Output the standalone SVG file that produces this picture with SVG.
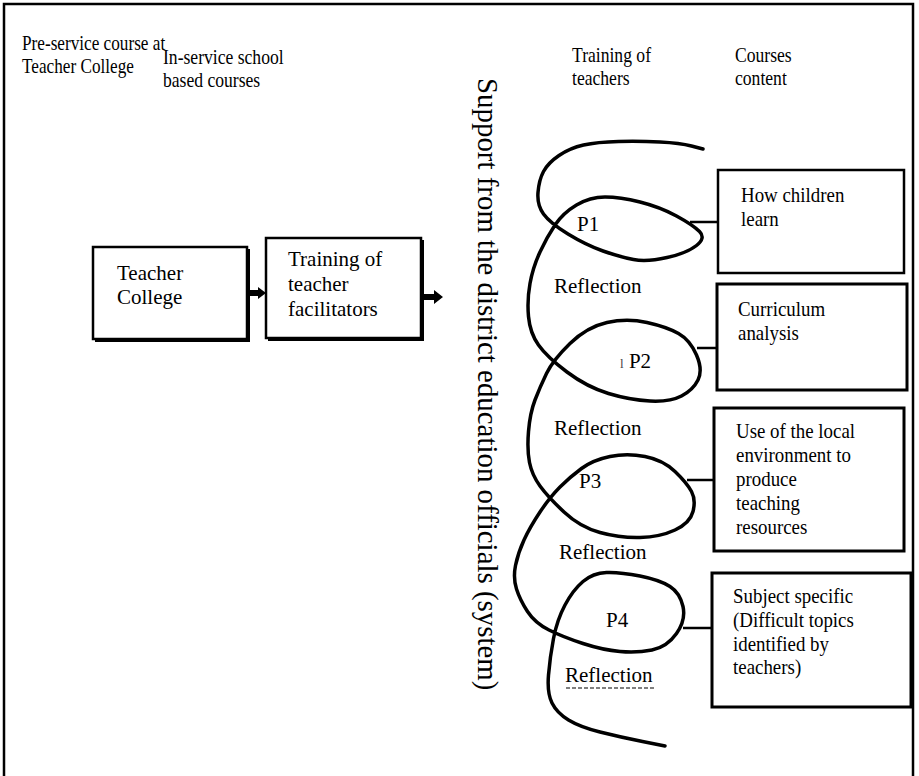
<svg xmlns="http://www.w3.org/2000/svg" width="919" height="776" viewBox="0 0 919 776">
<style>
text{font-family:"Liberation Serif","Times New Roman",serif;font-size:21px;fill:#000}
.hd{font-size:20px}
.box{fill:#fff;stroke:#000;stroke-width:2.5}
.shadow{fill:none;stroke:#000;stroke-width:2}
.conn{stroke:#000;stroke-width:2.5;fill:none}
.spiral{fill:none;stroke:#000;stroke-width:3.5;stroke-linecap:round;stroke-linejoin:round}
</style>
<rect x="4" y="4" width="909" height="800" fill="#fff" stroke="#000" stroke-width="2.5"/>
<g id="headers">
<text class="hd" transform="translate(22,50) scale(0.86,1)">Pre-service course at</text>
<text class="hd" transform="translate(22,73) scale(0.86,1)">Teacher College</text>
<text class="hd" transform="translate(163,64) scale(0.88,1)">In-service school</text>
<text class="hd" transform="translate(163,87) scale(0.88,1)">based courses</text>
<text class="hd" transform="translate(572,62) scale(0.88,1)">Training of</text>
<text class="hd" transform="translate(572,85) scale(0.88,1)">teachers</text>
<text class="hd" transform="translate(735,62) scale(0.88,1)">Courses</text>
<text class="hd" transform="translate(735,85) scale(0.88,1)">content</text>
</g>
<g id="support">
<text transform="translate(478,78) rotate(90)" style="font-size:28.9px">Support from the district education officials (system)</text>
</g>
<g id="teacher-college">
<rect class="box" x="93" y="247" width="154" height="92"/>
<polyline class="shadow" points="95,341 249,341 249,249"/>
<text x="117" y="280">Teacher</text>
<text x="117" y="304">College</text>
</g>
<g id="training-facilitators">
<rect class="box" x="266" y="238" width="155" height="100"/>
<polyline class="shadow" points="268,340 423,340 423,240"/>
<text x="288" y="266">Training of</text>
<text x="288" y="291">teacher</text>
<text x="288" y="316">facilitators</text>
</g>
<g id="box-children">
<rect class="box" x="718" y="170" width="186" height="103"/>
<text transform="translate(741,202) scale(0.9,1)">How children</text>
<text transform="translate(741,226) scale(0.9,1)">learn</text>
</g>
<g id="box-curriculum">
<rect class="box" x="717" y="284" width="190" height="106" style="stroke-width:3"/>
<text transform="translate(738,316) scale(0.9,1)">Curriculum</text>
<text transform="translate(738,340) scale(0.9,1)">analysis</text>
</g>
<g id="box-environment">
<rect class="box" x="714" y="408" width="190" height="143" style="stroke-width:3"/>
<text transform="translate(736,438) scale(0.9,1)">Use of the local</text>
<text transform="translate(736,462) scale(0.9,1)">environment to</text>
<text transform="translate(736,486) scale(0.9,1)">produce</text>
<text transform="translate(736,510) scale(0.9,1)">teaching</text>
<text transform="translate(736,534) scale(0.9,1)">resources</text>
</g>
<g id="box-subject">
<rect class="box" x="712" y="573" width="199" height="134" style="stroke-width:3"/>
<text transform="translate(733,603) scale(0.9,1)">Subject specific</text>
<text transform="translate(733,627) scale(0.9,1)">(Difficult topics</text>
<text transform="translate(733,651) scale(0.9,1)">identified by</text>
<text transform="translate(733,674) scale(0.9,1)">teachers)</text>
</g>
<g id="spiral">
<path class="spiral" d="M703,149 L691.5,146 Q680,143 660,142 Q640,141 618.5,141.5 Q597,142 583.5,145 Q570,148 559,155.5 Q548,163 543.5,171.5 Q539,180 538,192.5 Q537,205 543.5,214 Q550,223 568,234 Q586,245 603,251 Q620,257 633.5,259.5 Q647,262 667,257.5 Q687,253 696.5,245.5 Q706,238 699.5,231.5 Q693,225 676.5,216 Q660,207 640,202 Q620,197 605,197 Q590,197 576.5,205 Q563,213 555,225 Q547,237 540,252 Q533,267 530,283.5 Q527,300 528.5,316.5 Q530,333 538.5,345 Q547,357 567,372 Q587,387 608.5,393.5 Q630,400 650,401 Q670,402 681.5,396 Q693,390 698,380 Q703,370 696.5,355 Q690,340 678.5,333.5 Q667,327 647,322.5 Q627,318 607,322.5 Q587,327 570,343.5 Q553,360 546.5,373.5 Q540,387 535,400 Q530,413 528.5,431.5 Q527,450 529.5,462.5 Q532,475 540,486 Q548,497 564,512 Q580,527 600,532.5 Q620,538 640,537.5 Q660,537 675,530 Q690,523 693,511.5 Q696,500 691.5,491.5 Q687,483 675,471.5 Q663,460 645,456.5 Q627,453 610,456.5 Q593,460 581.5,468.5 Q570,477 560,487 Q550,497 540,512 Q530,527 524,540 Q518,553 515.5,565.5 Q513,578 516.5,589 Q520,600 527.5,611.5 Q535,623 549,630 Q563,637 583,643.5 Q603,650 620,651.5 Q637,653 652,650 Q667,647 676.5,633.5 Q686,620 683,606.5 Q680,593 670,586.5 Q660,580 640,576 Q620,572 606.5,572.5 Q593,573 583,581.5 Q573,590 565,605 Q557,620 553.5,638.5 Q550,657 548.5,675 Q547,693 552,703 Q557,713 568.5,720 Q580,727 600,732 Q620,737 642.5,741.5 L665,746"/>
<text x="577" y="231">P1</text>
<text x="620" y="368"><tspan style="font-size:13px;fill:#444">l</tspan> P2</text>
<text x="579" y="488">P3</text>
<text x="606" y="627">P4</text>
<text x="554" y="293">Reflection</text>
<text x="554" y="435">Reflection</text>
<text x="559" y="559">Reflection</text>
<text x="565" y="682">Reflection</text>
<line x1="566" y1="688" x2="656" y2="688" stroke="#000" stroke-width="1.2" stroke-dasharray="4,2"/>
</g>
<g id="connectors">
<path d="M247,290 H258 V287 L266,293 L258,299 V296 H247 Z" fill="#000"/>
<path d="M423,294 H434 V290 L443,297 L434,304 V300 H423 Z" fill="#000"/>
<line class="conn" x1="690" y1="222" x2="718" y2="222"/>
<line class="conn" x1="697" y1="348" x2="717" y2="348"/>
<line class="conn" x1="687" y1="480" x2="714" y2="480"/>
<line class="conn" x1="683" y1="628" x2="712" y2="628"/>
</g>
</svg>
